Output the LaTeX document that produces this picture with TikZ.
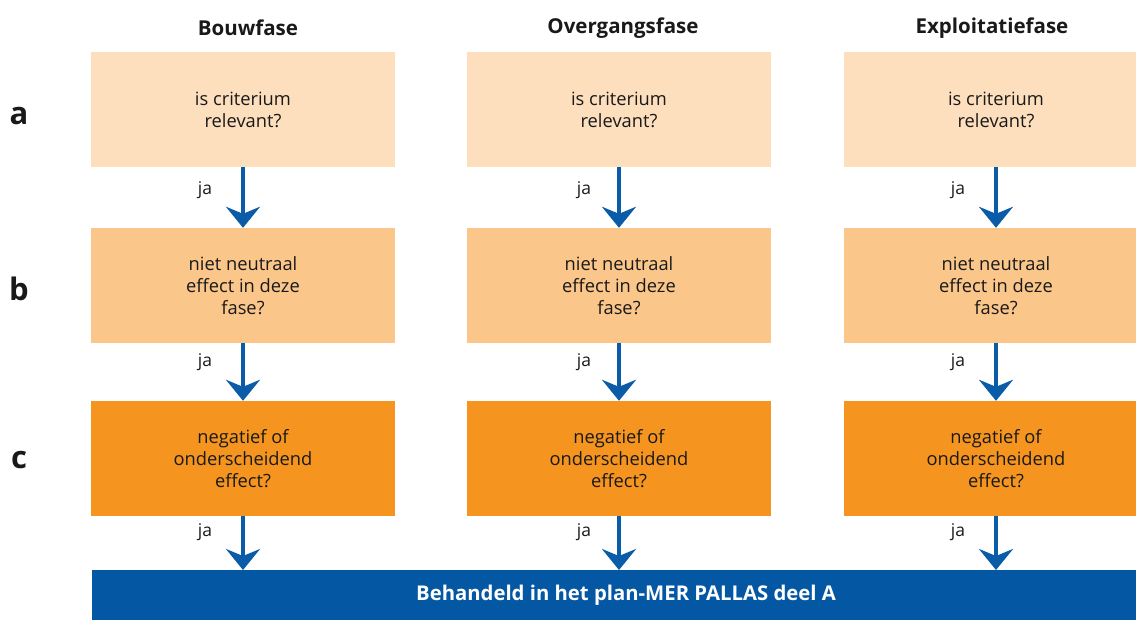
\documentclass[tikz,border=0pt]{standalone}
\usepackage{fontspec}
\setmainfont{Open Sans}
\usetikzlibrary{arrows.meta}
\definecolor{rowA}{HTML}{FDDFBD}
\definecolor{rowB}{HTML}{FBC68A}
\definecolor{rowC}{HTML}{F5951F}
\definecolor{barblue}{HTML}{0457A3}
\definecolor{arrblue}{HTML}{0A5CA8}
\tikzset{
  box/.style={fill=#1, draw=none, minimum width=304pt, minimum height=115pt,
    inner sep=0pt, align=center, font=\fontsize{18.3}{22}\selectfont, text=black!90},
  head/.style={font=\bfseries\fontsize{20.5}{24}\selectfont, text=black!90},
  rowlabel/.style={font=\bfseries\fontsize{31}{32}\selectfont, text=black!90},
  yes/.style={font=\fontsize{17.5}{20}\selectfont, text=black!90},
  arr/.style={draw=arrblue, line width=4pt,
    -{Stealth[length=21pt, width=34pt, inset=7pt]}},
}
\begin{document}
\begin{tikzpicture}[x=1pt, y=-1pt]
\useasboundingbox (0,0) rectangle (1136,619);
\clip (0,0) rectangle (1136,619);

% column headers
\node[head] (h1) at (248,28) {Bouwfase};
\node[head] (h2) at (623,28) {Overgangsfase};
\node[head] (h3) at (992,28) {Exploitatiefase};

% row labels
\node[rowlabel] (la) at (19,116) {a};
\node[rowlabel] (lb) at (19,289) {b};
\node[rowlabel] (lc) at (19,460) {c};

% question boxes per phase
\foreach \i/\x in {1/243, 2/619, 3/996} {
  \node[box=rowA] (a\i) at (\x,109.5) {is criterium\\relevant?};
  \node[box=rowB] (b\i) at (\x,285.5) {niet neutraal\\effect in deze\\fase?};
  \node[box=rowC] (c\i) at (\x,458.5) {negatief of\\onderscheidend\\effect?};
}

% result bar
\node[fill=barblue, minimum width=1068pt, minimum height=50pt, inner sep=0pt,
  text=white, font=\bfseries\fontsize{20.3}{22}\selectfont] (res) at (626,595)
  {Behandeld in het plan-MER PALLAS deel A};
\coordinate (r1) at (243,570);
\coordinate (r2) at (619,570);
\coordinate (r3) at (996,570);

% "ja" arrows
\foreach \i/\jx in {1/205, 2/584, 3/958} {
  \draw[arr] (a\i.south) -- (b\i.north);
  \draw[arr] (b\i.south) -- (c\i.north);
  \draw[arr] (c\i.south) -- (r\i);
  \node[yes] (ja\i) at (\jx,190) {ja};
  \node[yes] (jb\i) at (\jx,362) {ja};
  \node[yes] (jc\i) at (\jx,532) {ja};
}
\end{tikzpicture}
\end{document}
